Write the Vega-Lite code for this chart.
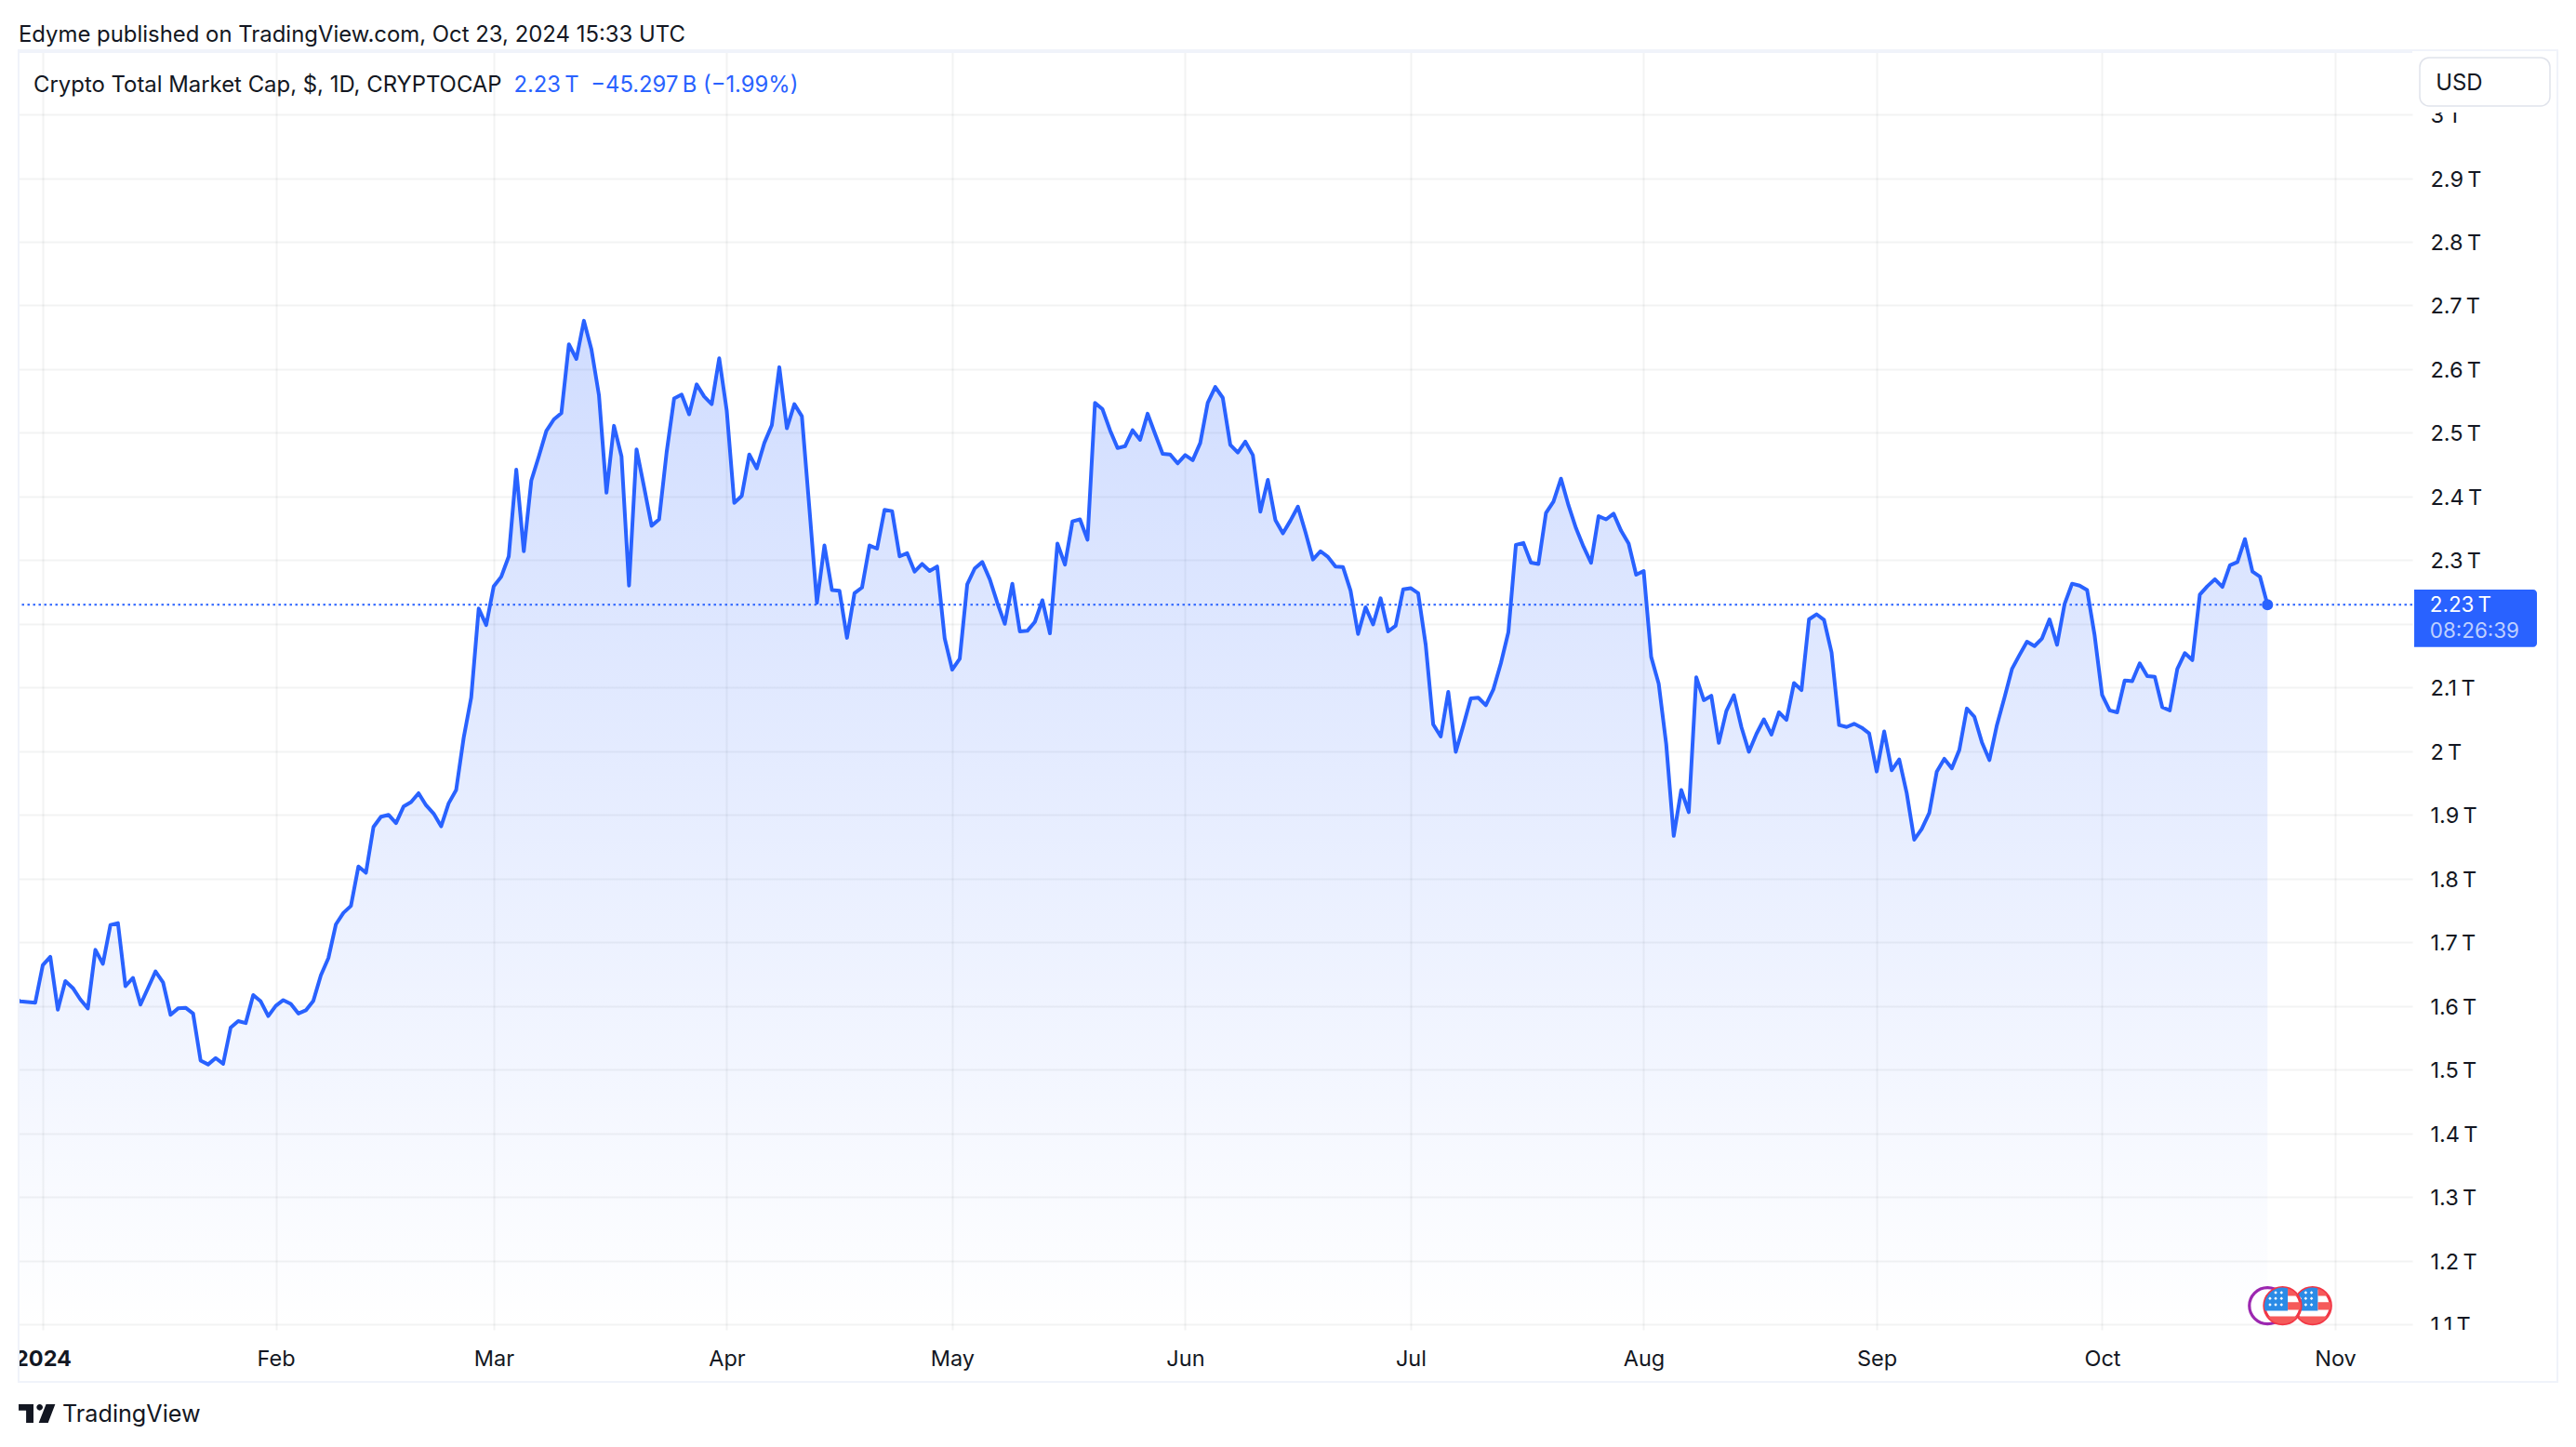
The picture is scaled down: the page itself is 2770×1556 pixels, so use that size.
{
  "$schema": "https://vega.github.io/schema/vega-lite/v6.json",
  "width": 2574,
  "height": 1377,
  "autosize": "none",
  "padding": {"left": 20, "top": 53, "right": 176, "bottom": 126},
  "background": "#ffffff",
  "config": {"view": {"stroke": null}, "font": "Inter"},
  "title": {
    "text": "Edyme published on TradingView.com, Oct 23, 2024 15:33 UTC",
    "anchor": "start",
    "frame": "group",
    "offset": 3.5,
    "font": "Inter",
    "fontSize": 23.9,
    "fontWeight": 400,
    "color": "#131722"
  },
  "datasets": {
    "cap": [
      {"date":"2023-12-28","cap":1.615},{"date":"2023-12-29","cap":1.607},{"date":"2023-12-30","cap":1.606},{"date":"2023-12-31","cap":1.605},
      {"date":"2024-01-01","cap":1.664},{"date":"2024-01-02","cap":1.677},{"date":"2024-01-03","cap":1.594},{"date":"2024-01-04","cap":1.639},{"date":"2024-01-05","cap":1.628},{"date":"2024-01-06","cap":1.61},{"date":"2024-01-07","cap":1.596},{"date":"2024-01-08","cap":1.688},{"date":"2024-01-09","cap":1.666},{"date":"2024-01-10","cap":1.727},{"date":"2024-01-11","cap":1.73},{"date":"2024-01-12","cap":1.631},{"date":"2024-01-13","cap":1.644},{"date":"2024-01-14","cap":1.602},{"date":"2024-01-15","cap":1.628},{"date":"2024-01-16","cap":1.654},{"date":"2024-01-17","cap":1.637},{"date":"2024-01-18","cap":1.586},{"date":"2024-01-19","cap":1.596},{"date":"2024-01-20","cap":1.597},{"date":"2024-01-21","cap":1.588},{"date":"2024-01-22","cap":1.514},{"date":"2024-01-23","cap":1.508},{"date":"2024-01-24","cap":1.518},{"date":"2024-01-25","cap":1.509},{"date":"2024-01-26","cap":1.566},{"date":"2024-01-27","cap":1.576},{"date":"2024-01-28","cap":1.573},{"date":"2024-01-29","cap":1.617},{"date":"2024-01-30","cap":1.607},{"date":"2024-01-31","cap":1.584},
      {"date":"2024-02-01","cap":1.6},{"date":"2024-02-02","cap":1.609},{"date":"2024-02-03","cap":1.603},{"date":"2024-02-04","cap":1.588},{"date":"2024-02-05","cap":1.593},{"date":"2024-02-06","cap":1.608},{"date":"2024-02-07","cap":1.648},{"date":"2024-02-08","cap":1.675},{"date":"2024-02-09","cap":1.728},{"date":"2024-02-10","cap":1.746},{"date":"2024-02-11","cap":1.757},{"date":"2024-02-12","cap":1.819},{"date":"2024-02-13","cap":1.809},{"date":"2024-02-14","cap":1.881},{"date":"2024-02-15","cap":1.897},{"date":"2024-02-16","cap":1.9},{"date":"2024-02-17","cap":1.887},{"date":"2024-02-18","cap":1.913},{"date":"2024-02-19","cap":1.92},{"date":"2024-02-20","cap":1.934},{"date":"2024-02-21","cap":1.915},{"date":"2024-02-22","cap":1.902},{"date":"2024-02-23","cap":1.882},{"date":"2024-02-24","cap":1.918},{"date":"2024-02-25","cap":1.939},{"date":"2024-02-26","cap":2.021},{"date":"2024-02-27","cap":2.084},{"date":"2024-02-28","cap":2.224},{"date":"2024-02-29","cap":2.198},
      {"date":"2024-03-01","cap":2.259},{"date":"2024-03-02","cap":2.274},{"date":"2024-03-03","cap":2.306},{"date":"2024-03-04","cap":2.442},{"date":"2024-03-05","cap":2.314},{"date":"2024-03-06","cap":2.425},{"date":"2024-03-07","cap":2.463},{"date":"2024-03-08","cap":2.503},{"date":"2024-03-09","cap":2.521},{"date":"2024-03-10","cap":2.531},{"date":"2024-03-11","cap":2.639},{"date":"2024-03-12","cap":2.616},{"date":"2024-03-13","cap":2.676},{"date":"2024-03-14","cap":2.631},{"date":"2024-03-15","cap":2.559},{"date":"2024-03-16","cap":2.406},{"date":"2024-03-17","cap":2.511},{"date":"2024-03-18","cap":2.463},{"date":"2024-03-19","cap":2.26},{"date":"2024-03-20","cap":2.474},{"date":"2024-03-21","cap":2.415},{"date":"2024-03-22","cap":2.354},{"date":"2024-03-23","cap":2.364},{"date":"2024-03-24","cap":2.469},{"date":"2024-03-25","cap":2.554},{"date":"2024-03-26","cap":2.56},{"date":"2024-03-27","cap":2.529},{"date":"2024-03-28","cap":2.576},{"date":"2024-03-29","cap":2.557},{"date":"2024-03-30","cap":2.545},{"date":"2024-03-31","cap":2.617},
      {"date":"2024-04-01","cap":2.535},{"date":"2024-04-02","cap":2.39},{"date":"2024-04-03","cap":2.401},{"date":"2024-04-04","cap":2.466},{"date":"2024-04-05","cap":2.444},{"date":"2024-04-06","cap":2.484},{"date":"2024-04-07","cap":2.512},{"date":"2024-04-08","cap":2.603},{"date":"2024-04-09","cap":2.507},{"date":"2024-04-10","cap":2.545},{"date":"2024-04-11","cap":2.526},{"date":"2024-04-12","cap":2.381},{"date":"2024-04-13","cap":2.233},{"date":"2024-04-14","cap":2.323},{"date":"2024-04-15","cap":2.253},{"date":"2024-04-16","cap":2.252},{"date":"2024-04-17","cap":2.178},{"date":"2024-04-18","cap":2.248},{"date":"2024-04-19","cap":2.257},{"date":"2024-04-20","cap":2.323},{"date":"2024-04-21","cap":2.318},{"date":"2024-04-22","cap":2.379},{"date":"2024-04-23","cap":2.377},{"date":"2024-04-24","cap":2.306},{"date":"2024-04-25","cap":2.311},{"date":"2024-04-26","cap":2.282},{"date":"2024-04-27","cap":2.294},{"date":"2024-04-28","cap":2.283},{"date":"2024-04-29","cap":2.29},{"date":"2024-04-30","cap":2.177},
      {"date":"2024-05-01","cap":2.128},{"date":"2024-05-02","cap":2.145},{"date":"2024-05-03","cap":2.262},{"date":"2024-05-04","cap":2.287},{"date":"2024-05-05","cap":2.297},{"date":"2024-05-06","cap":2.27},{"date":"2024-05-07","cap":2.233},{"date":"2024-05-08","cap":2.2},{"date":"2024-05-09","cap":2.263},{"date":"2024-05-10","cap":2.188},{"date":"2024-05-11","cap":2.189},{"date":"2024-05-12","cap":2.203},{"date":"2024-05-13","cap":2.237},{"date":"2024-05-14","cap":2.185},{"date":"2024-05-15","cap":2.326},{"date":"2024-05-16","cap":2.293},{"date":"2024-05-17","cap":2.361},{"date":"2024-05-18","cap":2.364},{"date":"2024-05-19","cap":2.332},{"date":"2024-05-20","cap":2.547},{"date":"2024-05-21","cap":2.537},{"date":"2024-05-22","cap":2.504},{"date":"2024-05-23","cap":2.476},{"date":"2024-05-24","cap":2.479},{"date":"2024-05-25","cap":2.504},{"date":"2024-05-26","cap":2.489},{"date":"2024-05-27","cap":2.53},{"date":"2024-05-28","cap":2.498},{"date":"2024-05-29","cap":2.467},{"date":"2024-05-30","cap":2.466},{"date":"2024-05-31","cap":2.452},
      {"date":"2024-06-01","cap":2.465},{"date":"2024-06-02","cap":2.457},{"date":"2024-06-03","cap":2.484},{"date":"2024-06-04","cap":2.547},{"date":"2024-06-05","cap":2.572},{"date":"2024-06-06","cap":2.555},{"date":"2024-06-07","cap":2.481},{"date":"2024-06-08","cap":2.469},{"date":"2024-06-09","cap":2.486},{"date":"2024-06-10","cap":2.465},{"date":"2024-06-11","cap":2.376},{"date":"2024-06-12","cap":2.426},{"date":"2024-06-13","cap":2.363},{"date":"2024-06-14","cap":2.342},{"date":"2024-06-15","cap":2.362},{"date":"2024-06-16","cap":2.384},{"date":"2024-06-17","cap":2.344},{"date":"2024-06-18","cap":2.301},{"date":"2024-06-19","cap":2.314},{"date":"2024-06-20","cap":2.305},{"date":"2024-06-21","cap":2.29},{"date":"2024-06-22","cap":2.289},{"date":"2024-06-23","cap":2.252},{"date":"2024-06-24","cap":2.184},{"date":"2024-06-25","cap":2.226},{"date":"2024-06-26","cap":2.199},{"date":"2024-06-27","cap":2.24},{"date":"2024-06-28","cap":2.188},{"date":"2024-06-29","cap":2.197},{"date":"2024-06-30","cap":2.254},
      {"date":"2024-07-01","cap":2.256},{"date":"2024-07-02","cap":2.248},{"date":"2024-07-03","cap":2.167},{"date":"2024-07-04","cap":2.042},{"date":"2024-07-05","cap":2.023},{"date":"2024-07-06","cap":2.093},{"date":"2024-07-07","cap":1.999},{"date":"2024-07-08","cap":2.04},{"date":"2024-07-09","cap":2.083},{"date":"2024-07-10","cap":2.084},{"date":"2024-07-11","cap":2.072},{"date":"2024-07-12","cap":2.097},{"date":"2024-07-13","cap":2.138},{"date":"2024-07-14","cap":2.187},{"date":"2024-07-15","cap":2.324},{"date":"2024-07-16","cap":2.327},{"date":"2024-07-17","cap":2.296},{"date":"2024-07-18","cap":2.294},{"date":"2024-07-19","cap":2.374},{"date":"2024-07-20","cap":2.392},{"date":"2024-07-21","cap":2.428},{"date":"2024-07-22","cap":2.386},{"date":"2024-07-23","cap":2.35},{"date":"2024-07-24","cap":2.321},{"date":"2024-07-25","cap":2.296},{"date":"2024-07-26","cap":2.369},{"date":"2024-07-27","cap":2.364},{"date":"2024-07-28","cap":2.373},{"date":"2024-07-29","cap":2.346},{"date":"2024-07-30","cap":2.326},{"date":"2024-07-31","cap":2.277},
      {"date":"2024-08-01","cap":2.283},{"date":"2024-08-02","cap":2.148},{"date":"2024-08-03","cap":2.106},{"date":"2024-08-04","cap":2.011},{"date":"2024-08-05","cap":1.867},{"date":"2024-08-06","cap":1.939},{"date":"2024-08-07","cap":1.904},{"date":"2024-08-08","cap":2.116},{"date":"2024-08-09","cap":2.08},{"date":"2024-08-10","cap":2.087},{"date":"2024-08-11","cap":2.013},{"date":"2024-08-12","cap":2.063},{"date":"2024-08-13","cap":2.088},{"date":"2024-08-14","cap":2.038},{"date":"2024-08-15","cap":1.999},{"date":"2024-08-16","cap":2.027},{"date":"2024-08-17","cap":2.05},{"date":"2024-08-18","cap":2.026},{"date":"2024-08-19","cap":2.061},{"date":"2024-08-20","cap":2.049},{"date":"2024-08-21","cap":2.107},{"date":"2024-08-22","cap":2.096},{"date":"2024-08-23","cap":2.207},{"date":"2024-08-24","cap":2.215},{"date":"2024-08-25","cap":2.206},{"date":"2024-08-26","cap":2.155},{"date":"2024-08-27","cap":2.041},{"date":"2024-08-28","cap":2.038},{"date":"2024-08-29","cap":2.043},{"date":"2024-08-30","cap":2.037},{"date":"2024-08-31","cap":2.028},
      {"date":"2024-09-01","cap":1.968},{"date":"2024-09-02","cap":2.031},{"date":"2024-09-03","cap":1.97},{"date":"2024-09-04","cap":1.987},{"date":"2024-09-05","cap":1.934},{"date":"2024-09-06","cap":1.861},{"date":"2024-09-07","cap":1.878},{"date":"2024-09-08","cap":1.903},{"date":"2024-09-09","cap":1.968},{"date":"2024-09-10","cap":1.988},{"date":"2024-09-11","cap":1.973},{"date":"2024-09-12","cap":2.002},{"date":"2024-09-13","cap":2.067},{"date":"2024-09-14","cap":2.054},{"date":"2024-09-15","cap":2.014},{"date":"2024-09-16","cap":1.986},{"date":"2024-09-17","cap":2.041},{"date":"2024-09-18","cap":2.084},{"date":"2024-09-19","cap":2.129},{"date":"2024-09-20","cap":2.151},{"date":"2024-09-21","cap":2.172},{"date":"2024-09-22","cap":2.165},{"date":"2024-09-23","cap":2.177},{"date":"2024-09-24","cap":2.207},{"date":"2024-09-25","cap":2.167},{"date":"2024-09-26","cap":2.231},{"date":"2024-09-27","cap":2.263},{"date":"2024-09-28","cap":2.26},{"date":"2024-09-29","cap":2.253},{"date":"2024-09-30","cap":2.182},
      {"date":"2024-10-01","cap":2.088},{"date":"2024-10-02","cap":2.064},{"date":"2024-10-03","cap":2.061},{"date":"2024-10-04","cap":2.111},{"date":"2024-10-05","cap":2.11},{"date":"2024-10-06","cap":2.138},{"date":"2024-10-07","cap":2.118},{"date":"2024-10-08","cap":2.117},{"date":"2024-10-09","cap":2.069},{"date":"2024-10-10","cap":2.064},{"date":"2024-10-11","cap":2.129},{"date":"2024-10-12","cap":2.154},{"date":"2024-10-13","cap":2.143},{"date":"2024-10-14","cap":2.246},{"date":"2024-10-15","cap":2.259},{"date":"2024-10-16","cap":2.27},{"date":"2024-10-17","cap":2.258},{"date":"2024-10-18","cap":2.292},{"date":"2024-10-19","cap":2.297},{"date":"2024-10-20","cap":2.333},{"date":"2024-10-21","cap":2.282},{"date":"2024-10-22","cap":2.274},{"date":"2024-10-23","cap":2.23}
    ]
  },
  "data": {"name": "cap"},
  "layer": [
    {
      "mark": {
        "type": "area",
        "clip": true,
        "color": {
          "gradient": "linear",
          "x1": 0, "y1": 0, "x2": 0, "y2": 1,
          "stops": [
            {"offset": 0, "color": "rgba(41,98,255,0.22)"},
            {"offset": 1, "color": "rgba(41,98,255,0)"}
          ]
        }
      },
      "encoding": {
        "x": {
          "field": "date",
          "type": "temporal",
          "title": null,
          "scale": {"type": "utc", "domain": [1703789251200, 1731306528000]},
          "axis": {
            "tickCount": "month",
            "domain": false,
            "ticks": false,
            "labelPadding": 19,
            "labelFont": "Inter",
            "labelFontSize": 23.5,
            "labelColor": "#131722",
            "labelAlign": "center",
            "labelFlush": false,
            "labelOverlap": false,
            "labelExpr": "utcmonth(datum.value) == 0 ? '2024' : utcFormat(datum.value, '%b')",
            "labelFontWeight": {"condition": {"test": "utcmonth(datum.value) == 0", "value": 700}, "value": 400},
            "gridColor": "#2a2e39",
            "gridOpacity": 0.06,
            "gridWidth": 2
          }
        },
        "y": {
          "field": "cap",
          "type": "quantitative",
          "title": null,
          "scale": {"domain": [1.0912, 3.1023], "zero": false, "nice": false},
          "axis": {
            "orient": "right",
            "values": [1.1, 1.2, 1.3, 1.4, 1.5, 1.6, 1.7, 1.8, 1.9, 2, 2.1, 2.2, 2.3, 2.4, 2.5, 2.6, 2.7, 2.8, 2.9, 3],
            "domain": false,
            "ticks": false,
            "labelPadding": 19,
            "labelOffset": 1.5,
            "labelFont": "Inter",
            "labelFontSize": 23.5,
            "labelColor": "#131722",
            "labelAlign": "left",
            "labelFlush": false,
            "labelOverlap": false,
            "labelExpr": "abs(datum.value - 2.2) < 0.01 ? '' : format(datum.value, '.1~f') + '\u202fT'",
            "gridColor": "#2a2e39",
            "gridOpacity": 0.06,
            "gridWidth": 2
          }
        },
        "y2": {"datum": 1.0912}
      }
    },
    {
      "mark": {"type": "line", "clip": true, "color": "#2962ff", "strokeWidth": 4, "strokeJoin": "round"},
      "encoding": {
        "x": {"field": "date", "type": "temporal", "title": null},
        "y": {"field": "cap", "type": "quantitative", "title": null}
      }
    },
    {
      "data": {"values": [{"price": 2.23}]},
      "mark": {"type": "rule", "color": "#2962ff", "strokeWidth": 2, "strokeDash": [2.5, 3.5]},
      "encoding": {"y": {"field": "price", "type": "quantitative", "title": null}}
    },
    {
      "data": {"values": [{"date": "2024-10-23", "price": 2.23}]},
      "mark": {"type": "point", "filled": true, "opacity": 1, "color": "#2962ff", "size": 144, "shape": "circle"},
      "encoding": {
        "x": {"field": "date", "type": "temporal", "title": null},
        "y": {"field": "price", "type": "quantitative", "title": null}
      }
    },
    {
      "data": {"values": [
        {"from": "2024-11-11T06:30:00Z", "to": "2024-11-30T13:40:00Z", "low": 3.003, "high": 3.1023},
        {"from": "2024-11-11T06:30:00Z", "to": "2024-11-30T13:40:00Z", "low": 1.0095, "high": 1.0912},
        {"from": "2023-12-26T07:30:00Z", "to": "2023-12-28T18:47:00Z", "low": 1.0182, "high": 1.0766}
      ]},
      "mark": {"type": "rect", "color": "#ffffff", "clip": false},
      "encoding": {
        "x": {"field": "from", "type": "temporal", "title": null},
        "x2": {"field": "to"},
        "y": {"field": "low", "type": "quantitative", "title": null},
        "y2": {"field": "high"}
      }
    },
    {
      "data": {"values": [{"from": "2023-12-28T18:47:00Z", "to": "2024-11-11T06:30:00Z", "low": 3.0965, "high": 3.1023}]},
      "mark": {"type": "rect", "color": "#f0f3fa"},
      "encoding": {
        "x": {"field": "from", "type": "temporal", "title": null},
        "x2": {"field": "to"},
        "y": {"field": "low", "type": "quantitative", "title": null},
        "y2": {"field": "high"}
      }
    },
    {
      "data": {"values": [{"from": "2023-12-28T18:47:00Z", "to": "2024-11-30T13:40:00Z", "low": 1.0095, "high": 3.1009}]},
      "mark": {"type": "rect", "fill": "transparent", "stroke": "#f0f3fa", "strokeWidth": 2},
      "encoding": {
        "x": {"field": "from", "type": "temporal", "title": null},
        "x2": {"field": "to"},
        "y": {"field": "low", "type": "quantitative", "title": null},
        "y2": {"field": "high"}
      }
    },
    {
      "data": {"values": [{"from": "2024-11-12T06:15:00Z", "to": "2024-11-29T14:00:00Z", "low": 3.0133, "high": 3.0892}]},
      "mark": {"type": "rect", "fill": "#ffffff", "stroke": "#e0e3eb", "strokeWidth": 1.5, "cornerRadius": 10},
      "encoding": {
        "x": {"field": "from", "type": "temporal", "title": null},
        "x2": {"field": "to"},
        "y": {"field": "low", "type": "quantitative", "title": null},
        "y2": {"field": "high"}
      }
    },
    {
      "data": {"values": [{"from": "2024-11-11T12:30:00Z", "to": "2024-11-27T20:24:00Z", "low": 2.1637, "high": 2.2538}]},
      "mark": {"type": "rect", "color": "#2962ff", "cornerRadiusTopRight": 4, "cornerRadiusBottomRight": 4},
      "encoding": {
        "x": {"field": "from", "type": "temporal", "title": null},
        "x2": {"field": "to"},
        "y": {"field": "low", "type": "quantitative", "title": null},
        "y2": {"field": "high"}
      }
    },
    {
      "data": {"values": [
        {"label": "Crypto Total Market Cap, $, 1D, CRYPTOCAP", "date": "2023-12-30T18:20:00Z", "price": 3.0454},
        {"label": "USD", "date": "2024-11-14T09:30:00Z", "price": 3.0483}
      ]},
      "mark": {"type": "text", "align": "left", "baseline": "middle", "font": "Inter", "fontSize": 23.9, "color": "#131722"},
      "encoding": {
        "x": {"field": "date", "type": "temporal", "title": null},
        "y": {"field": "price", "type": "quantitative", "title": null},
        "text": {"field": "label"}
      }
    },
    {
      "data": {"values": [
        {"label": "2.23\u202fT", "date": "2024-03-03T16:00:00Z", "price": 3.0454},
        {"label": "\u221245.297\u202fB (\u22121.99%)", "date": "2024-03-13T22:00:00Z", "price": 3.0454}
      ]},
      "mark": {"type": "text", "align": "left", "baseline": "middle", "font": "Inter", "fontSize": 23.8, "color": "#2962ff"},
      "encoding": {
        "x": {"field": "date", "type": "temporal", "title": null},
        "y": {"field": "price", "type": "quantitative", "title": null},
        "text": {"field": "label"}
      }
    },
    {
      "data": {"values": [{"label": "2.23\u202fT", "date": "2024-11-13T14:24:00Z", "price": 2.2285}]},
      "mark": {"type": "text", "align": "left", "baseline": "middle", "font": "Inter", "fontSize": 22.4, "color": "#ffffff"},
      "encoding": {
        "x": {"field": "date", "type": "temporal", "title": null},
        "y": {"field": "price", "type": "quantitative", "title": null},
        "text": {"field": "label"}
      }
    },
    {
      "data": {"values": [{"label": "08:26:39", "date": "2024-11-13T14:24:00Z", "price": 2.1881}]},
      "mark": {"type": "text", "align": "left", "baseline": "middle", "font": "Inter", "fontSize": 22.4, "color": "#bfd0ff"},
      "encoding": {
        "x": {"field": "date", "type": "temporal", "title": null},
        "y": {"field": "price", "type": "quantitative", "title": null},
        "text": {"field": "label"}
      }
    },
    {
      "data": {"values": [{"label": "TradingView", "date": "2024-01-03T14:24:00Z", "price": 0.9583}]},
      "mark": {"type": "text", "align": "left", "baseline": "middle", "font": "Inter", "fontSize": 25.2, "color": "#131722"},
      "encoding": {
        "x": {"field": "date", "type": "temporal", "title": null},
        "y": {"field": "price", "type": "quantitative", "title": null},
        "text": {"field": "label"}
      }
    },
    {
      "data": {"values": [{"date": "2023-12-31T05:20:00Z", "price": 0.9598}]},
      "mark": {
        "type": "point",
        "filled": true,
        "opacity": 1,
        "color": "#131722",
        "size": 1547,
        "shape": "M-1,-.51 L-.19,-.51 L-.19,.51 L-.59,.51 L-.59,-.17 L-1,-.17 Z M-.02,-.34 A.17,.17 0 1 1 .32,-.34 A.17,.17 0 1 1 -.02,-.34 Z M.5,-.51 L1,-.51 L.61,.51 L.1,.51 Z"
      },
      "encoding": {
        "x": {"field": "date", "type": "temporal", "title": null},
        "y": {"field": "price", "type": "quantitative", "title": null}
      }
    },
    {
      "data": {"values": [
        {"date": "2024-10-23", "price": 1.129, "part": "event"},
        {"date": "2024-10-29", "price": 1.129, "part": "ring"},
        {"date": "2024-10-29", "price": 1.129, "part": "canton"},
        {"date": "2024-10-29", "price": 1.129, "part": "stripes"},
        {"date": "2024-10-29", "price": 1.129, "part": "stars"},
        {"date": "2024-10-25", "price": 1.129, "part": "ring"},
        {"date": "2024-10-25", "price": 1.129, "part": "canton"},
        {"date": "2024-10-25", "price": 1.129, "part": "stripes"},
        {"date": "2024-10-25", "price": 1.129, "part": "stars"}
      ]},
      "mark": {"type": "point", "filled": true, "opacity": 1, "strokeWidth": 3.2},
      "encoding": {
        "x": {"field": "date", "type": "temporal", "title": null},
        "y": {"field": "price", "type": "quantitative", "title": null},
        "shape": {
          "field": "part",
          "type": "nominal",
          "legend": null,
          "scale": {
            "domain": ["event", "ring", "canton", "stripes", "stars"],
            "range": [
              "circle",
              "circle",
              "M-.96,.27 L.29,.27 L.29,-.96 A1,1 0 0 0 -.96,.27 Z",
              "M.29,-.96 A1,1 0 0 1 .83,-.55 L.29,-.55 Z M.29,-.2 L.98,-.2 A1,1 0 0 1 .97,.23 L.29,.23 Z M-.81,.58 L.81,.58 A1,1 0 0 1 -.81,.58 Z",
              "M-.38,-.82 L-.29,-.73 L-.38,-.64 L-.47,-.73 Z M-.06,-.82 L.03,-.73 L-.06,-.64 L-.15,-.73 Z M-.69,-.49 L-.6,-.4 L-.69,-.31 L-.78,-.4 Z M-.38,-.49 L-.29,-.4 L-.38,-.31 L-.47,-.4 Z M-.06,-.49 L.03,-.4 L-.06,-.31 L-.15,-.4 Z M-.69,-.15 L-.6,-.06 L-.69,.03 L-.78,-.06 Z M-.38,-.15 L-.29,-.06 L-.38,.03 L-.47,-.06 Z M-.06,-.15 L.03,-.06 L-.06,.03 L-.15,-.06 Z"
            ]
          }
        },
        "fill": {
          "field": "part",
          "type": "nominal",
          "legend": null,
          "scale": {
            "domain": ["event", "ring", "canton", "stripes", "stars"],
            "range": ["#ffffff", "#ffffff", "#2b8be6", "#f55a5a", "#ffffff"]
          }
        },
        "stroke": {
          "field": "part",
          "type": "nominal",
          "legend": null,
          "scale": {
            "domain": ["event", "ring", "canton", "stripes", "stars"],
            "range": ["#9c27b0", "#f23645", "transparent", "transparent", "transparent"]
          }
        },
        "size": {
          "field": "part",
          "type": "ordinal",
          "legend": null,
          "scale": {
            "domain": ["event", "ring", "canton", "stripes", "stars"],
            "range": [1521, 1521, 1024, 1024, 1024]
          }
        }
      }
    }
  ]
}
